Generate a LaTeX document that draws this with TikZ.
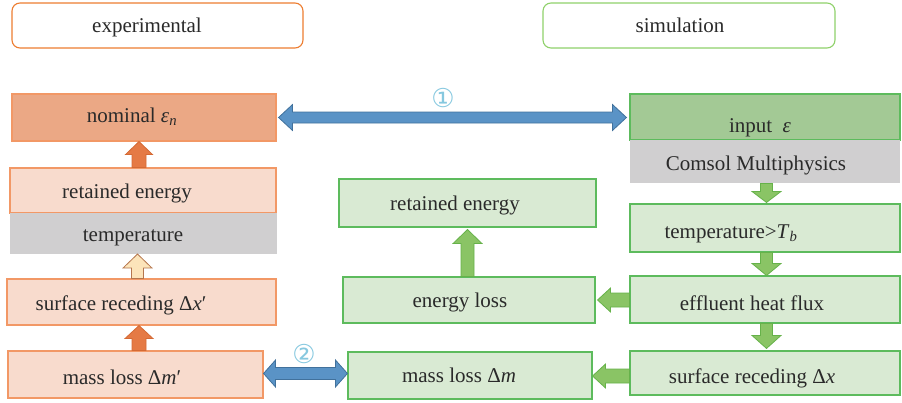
\documentclass[tikz,border=0pt]{standalone}
\usepackage{fontspec}
\setmainfont{Liberation Serif}
\newfontfamily\symfont{DejaVu Sans}
\usetikzlibrary{calc}
\definecolor{txtc}{HTML}{2A2A2A}
\definecolor{orB}{HTML}{ED7D31}
\definecolor{orBl}{HTML}{F29866}
\definecolor{nomF}{HTML}{EBA885}
\definecolor{lorF}{HTML}{F8DBCD}
\definecolor{grayF}{HTML}{D0CFD0}
\definecolor{grB}{HTML}{8FD16A}
\definecolor{grBd}{HTML}{5DBB5D}
\definecolor{inpF}{HTML}{A3C995}
\definecolor{lgrF}{HTML}{D9EAD3}
\definecolor{garF}{HTML}{8AC465}
\definecolor{garB}{HTML}{66B24A}
\definecolor{blF}{HTML}{5A93C6}
\definecolor{blB}{HTML}{41719C}
\definecolor{oarF}{HTML}{E57A45}
\definecolor{oarB}{HTML}{D46A35}
\definecolor{crF}{HTML}{FCE4BA}
\definecolor{crB}{HTML}{B5764E}
\definecolor{numc}{HTML}{86C8DF}
\newcommand\blockarr[6]{%
  \coordinate (hb) at ($(#3)!#6!(#2)$);
  \filldraw[#1] ($(#2)!#4!90:(#3)$) -- ($(hb)!#4!90:(#3)$) -- ($(hb)!#5!90:(#3)$) -- (#3)
    -- ($(hb)!#5!-90:(#3)$) -- ($(hb)!#4!-90:(#3)$) -- ($(#2)!#4!-90:(#3)$) -- cycle;}
\newcommand\dblarr[6]{%
  \coordinate (ha) at ($(#2)!#6!(#3)$);
  \coordinate (hb) at ($(#3)!#6!(#2)$);
  \filldraw[#1] (#2) -- ($(ha)!#5!90:(#3)$) -- ($(ha)!#4!90:(#3)$) -- ($(hb)!#4!90:(#3)$)
    -- ($(hb)!#5!90:(#3)$) -- (#3) -- ($(hb)!#5!-90:(#3)$) -- ($(hb)!#4!-90:(#3)$)
    -- ($(ha)!#4!-90:(#3)$) -- ($(ha)!#5!-90:(#3)$) -- cycle;}
\begin{document}
\begin{tikzpicture}[x=1pt,y=-1pt,
  box/.style={rectangle, inner sep=0pt, line width=1.1pt},
  hdr/.style={box, rounded corners=8pt, fill=white},
  ebox/.style={box, draw=orBl, fill=lorF},
  gbox/.style={box, draw=grBd, fill=lgrF},
  grbox/.style={box, fill=grayF},
  txt/.style={anchor=base, inner sep=0pt, text=txtc, font=\fontsize{21}{25}\selectfont},
  num/.style={inner sep=0pt, text=numc, font=\symfont\fontsize{26}{26}\selectfont},
  oarr/.style={fill=oarF, draw=oarB, line width=0.8pt},
  carr/.style={fill=crF, draw=crB, line width=0.8pt},
  garr/.style={fill=garF, draw=garB, line width=0.8pt},
  barr/.style={fill=blF, draw=blB, line width=0.8pt}]
\useasboundingbox (0,0) rectangle (902,402);
% header boxes
\node[hdr, draw=orB, minimum width=291pt, minimum height=45pt] (expl) at (157.5,25.5) {};
\node[hdr, draw=grB, minimum width=292pt, minimum height=45pt] (siml) at (689,25.5) {};
\node[txt] (expltxt) at (147,32) {experimental};
\node[txt] (simltxt) at (680,32) {simulation};
% left column
\node[box, draw=orBl, fill=nomF, minimum width=264pt, minimum height=47pt] (nom) at (144,117.5) {};
\node[ebox, minimum width=266pt, minimum height=45pt] (lret) at (143,190.5) {};
\node[grbox, minimum width=267pt, minimum height=41pt] (ltemp) at (143.5,233.5) {};
\node[ebox, minimum width=269pt, minimum height=46pt] (lsurf) at (141.5,302) {};
\node[ebox, minimum width=255pt, minimum height=47pt] (lmass) at (135.5,374.5) {};
\node[txt] (nomtxt) at (132,122) {nominal \textit{ε}\textsubscript{\textit{n}}};
\node[txt] (lrettxt) at (127,198) {retained energy};
\node[txt] (ltemptxt) at (133,241) {temperature};
\node[txt] (lsurftxt) at (121,310) {surface receding Δ\textit{x}′};
\node[txt] (lmasstxt) at (122,384) {mass loss Δ\textit{m}′};
% right column
\node[box, draw=grBd, fill=inpF, minimum width=270pt, minimum height=46pt] (inp) at (765,117) {};
\node[grbox, minimum width=270pt, minimum height=43pt] (comsol) at (765,161.5) {};
\node[gbox, minimum width=270pt, minimum height=48pt] (rtemp) at (765,228) {};
\node[gbox, minimum width=270pt, minimum height=47pt] (eff) at (765,299.5) {};
\node[gbox, minimum width=270pt, minimum height=44pt] (rsurf) at (765,373) {};
\node[txt] (inptxt) at (760,132) {input \ \textit{ε}};
\node[txt] (comsoltxt) at (756,170) {Comsol Multiphysics};
\node[txt] (rtemptxt) at (731,238) {temperature\textgreater\textit{T}\textsubscript{\textit{b}}};
\node[txt] (efftxt) at (752,310) {effluent heat flux};
\node[txt] (rsurftxt) at (752,383) {surface receding Δ\textit{x}};
% middle column
\node[gbox, minimum width=257pt, minimum height=48pt] (mret) at (467.5,203) {};
\node[gbox, minimum width=252pt, minimum height=46pt] (eloss) at (469,300) {};
\node[gbox, minimum width=244pt, minimum height=47pt] (mmass) at (470,375.5) {};
\node[txt] (mrettxt) at (455,210) {retained energy};
\node[txt] (elosstxt) at (460,307) {energy loss};
\node[txt] (mmasstxt) at (459,382) {mass loss Δ\textit{m}};
% left arrows
\coordinate (a1s) at ($(lret.north)+(-4,0)$);
\coordinate (a1e) at (a1s |- nom.south);
\blockarr{oarr}{a1s}{a1e}{7pt}{13.5pt}{13pt}
\coordinate (a2s) at ($(lsurf.north)+(-4,0)$);
\coordinate (a2e) at ($(a2s |- ltemp.south)+(0,-0.5)$);
\blockarr{carr}{a2s}{a2e}{6pt}{14.5pt}{14pt}
\coordinate (a3s) at ($(lmass.north)+(3.5,0)$);
\coordinate (a3e) at (a3s |- lsurf.south);
\blockarr{oarr}{a3s}{a3e}{7pt}{14pt}{13pt}
% right arrows
\coordinate (g1s) at ($(comsol.south)+(1.5,0)$);
\coordinate (g1e) at ($(g1s |- rtemp.north)+(0,-1)$);
\blockarr{garr}{g1s}{g1e}{6pt}{14.5pt}{11pt}
\coordinate (g2s) at ($(rtemp.south)+(1.5,0)$);
\coordinate (g2e) at (g2s |- eff.north);
\blockarr{garr}{g2s}{g2e}{6pt}{14.5pt}{12pt}
\coordinate (g3s) at ($(eff.south)+(1.5,0)$);
\coordinate (g3e) at ($(g3s |- rsurf.north)+(0,-2)$);
\blockarr{garr}{g3s}{g3e}{6pt}{14.5pt}{13pt}
\coordinate (g4s) at ($(eloss.north)+(-1.5,0)$);
\coordinate (g4e) at ($(g4s |- mret.south)+(0,2)$);
\blockarr{garr}{g4s}{g4e}{6.5pt}{14.5pt}{14pt}
\coordinate (g5s) at (eff.west |- eloss.east);
\coordinate (g5e) at ($(eloss.east)+(2,0)$);
\blockarr{garr}{g5s}{g5e}{7pt}{12pt}{13pt}
\coordinate (g6s) at ($(rsurf.west |- mmass.east)+(0,0.5)$);
\coordinate (g6e) at ($(mmass.east)+(0,0.5)$);
\blockarr{garr}{g6s}{g6e}{7pt}{12pt}{13pt}
% blue double arrows
\coordinate (b1s) at ($(nom.east)+(2,0)$);
\coordinate (b1e) at ($(inp.west |- nom.east)+(-3,0)$);
\dblarr{barr}{b1s}{b1e}{5.5pt}{13pt}{14pt}
\coordinate (b2s) at ($(lmass.east)+(0,-1)$);
\coordinate (b2e) at ($(mmass.west |- lmass.east)+(0,-1)$);
\dblarr{barr}{b2s}{b2e}{6pt}{13.5pt}{12pt}
\node[num] (n1) at (443,98) {①};
\node[num] (n2) at (304,354) {②};
\end{tikzpicture}
\end{document}
